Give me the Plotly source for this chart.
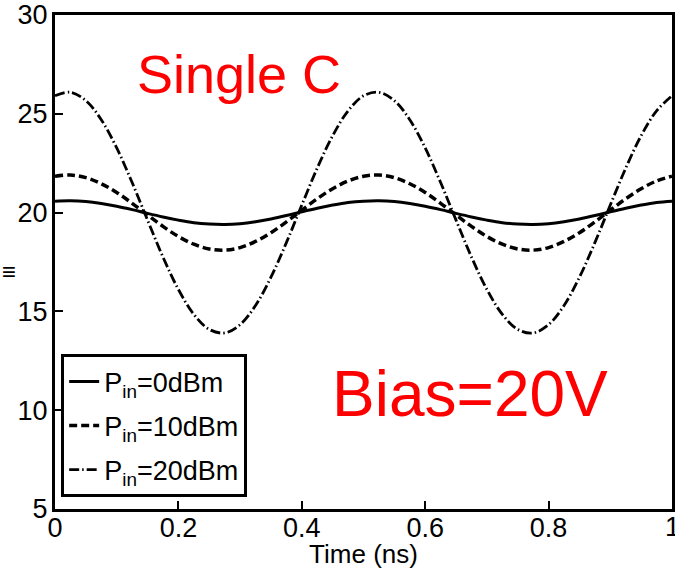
import plotly.graph_objects as go

time_ns = [round(i * 0.025, 3) for i in range(41)]

pin_0dbm = [20.58, 20.60, 20.56, 20.46, 20.32, 20.15, 19.96, 19.78, 19.62, 19.49,
            19.42, 19.40, 19.44, 19.54, 19.68, 19.85, 20.04, 20.22, 20.38, 20.51,
            20.58, 20.60, 20.56, 20.46, 20.32, 20.15, 19.96, 19.78, 19.62, 19.49,
            19.42, 19.40, 19.44, 19.54, 19.68, 19.85, 20.04, 20.22, 20.38, 20.51,
            20.58]
pin_10dbm = [21.84, 21.90, 21.77, 21.46, 21.02, 20.47, 19.88, 19.30, 18.79, 18.40,
             18.16, 18.10, 18.23, 18.54, 18.98, 19.53, 20.12, 20.70, 21.21, 21.60,
             21.84, 21.90, 21.77, 21.46, 21.02, 20.47, 19.88, 19.30, 18.79, 18.40,
             18.16, 18.10, 18.23, 18.54, 18.98, 19.53, 20.12, 20.70, 21.21, 21.60,
             21.84]
pin_20dbm = [25.91, 26.09, 25.67, 24.70, 23.27, 21.52, 19.62, 17.75, 16.11, 14.85,
             14.09, 13.91, 14.33, 15.30, 16.73, 18.48, 20.38, 22.25, 23.89, 25.15,
             25.91, 26.09, 25.67, 24.70, 23.27, 21.52, 19.62, 17.75, 16.11, 14.85,
             14.09, 13.91, 14.33, 15.30, 16.73, 18.48, 20.38, 22.25, 23.89, 25.15,
             25.91]

series_names = ["P<sub>in</sub>=0dBm", "P<sub>in</sub>=10dBm", "P<sub>in</sub>=20dBm"]
x_ticks = [0, 0.2, 0.4, 0.6, 0.8]
y_ticks = [5, 10, 15, 20, 25, 30]

FONT = "Arial, Liberation Sans"

fig = go.Figure()
fig.add_trace(go.Scatter(x=time_ns, y=pin_0dbm, mode="lines", name=series_names[0],
                         legendgroup="a",
                         line=dict(color="black", width=3, shape="spline")))
fig.add_trace(go.Scatter(x=time_ns, y=pin_10dbm, mode="lines", name=series_names[1],
                         legendgroup="b",
                         line=dict(color="black", width=3.5, dash="8px,4px", shape="spline")))
fig.add_trace(go.Scatter(x=time_ns, y=pin_20dbm, mode="lines", name=series_names[2],
                         legendgroup="c",
                         line=dict(color="black", width=2.8, dash="10px,3px,1.5px,3px", shape="spline")))

axis_common = dict(showline=True, linecolor="black", linewidth=3, mirror=True,
                   ticks="inside", ticklen=8, tickwidth=2, tickcolor="black",
                   showgrid=False, zeroline=False,
                   tickfont=dict(family=FONT, size=27, color="black"))

fig.update_xaxes(range=[0, 1], tickvals=x_ticks, ticktext=[str(v) for v in x_ticks],
                 ticklabelstandoff=-7,
                 title=dict(text="Time (ns)", font=dict(family=FONT, size=26, color="black"),
                            standoff=7),
                 **axis_common)
fig.update_yaxes(range=[5, 30], tickvals=y_ticks, ticklabelstandoff=-1, **axis_common)

# last x tick label, partly cut by the right edge as in the reference
fig.add_annotation(text="1", x=1, y=0, xref="x", yref="paper", yanchor="top", yshift=-1,
                   showarrow=False, font=dict(family=FONT, size=27, color="black"))
fig.add_annotation(text="Single C", x=0.298, y=27.0, xref="x", yref="y", showarrow=False,
                   font=dict(family=FONT, size=54, color="red"))
fig.add_annotation(text="Bias=20V", x=0.673, y=10.8, xref="x", yref="y", showarrow=False,
                   font=dict(family=FONT, size=64, color="red"))
fig.add_annotation(text="≡", x=-0.0887, y=0.48, xref="paper", yref="paper", xanchor="left",
                   showarrow=False, font=dict(family=FONT, size=24, color="black"))

fig.update_layout(
    width=675, height=569,
    margin=dict(l=55, r=0, t=15, b=59),
    paper_bgcolor="white", plot_bgcolor="white",
    showlegend=True,
    legend=dict(x=0.01, y=0.313, xanchor="left", yanchor="top",
                bgcolor="white", bordercolor="black", borderwidth=3,
                font=dict(family=FONT, size=27, color="black"),
                tracegroupgap=6),
)

fig.write_html("out.html")
